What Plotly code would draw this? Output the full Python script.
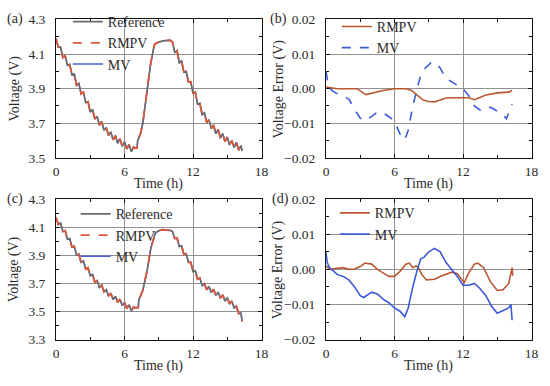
import plotly.graph_objects as go

# ---------------- data ----------------
# Panel (a): voltage traces (time in h, voltage in V)
t_a = [0.0, 0.2, 0.4, 0.6, 0.8, 1.0, 1.2, 1.4, 1.6, 1.8, 2.0, 2.2, 2.4, 2.6, 2.8, 3.0, 3.2, 3.4,
       3.6, 3.8, 4.0, 4.2, 4.4, 4.6, 4.8, 5.0, 5.2, 5.4, 5.6, 5.8, 6.0, 6.2, 6.4, 6.6, 6.8, 6.9,
       7.1, 7.15, 7.4, 7.6, 7.8, 8.0, 8.3, 8.6, 8.7, 9.0, 9.5, 10.0, 10.2,
       10.4, 10.6, 10.8, 11.0, 11.2, 11.4, 11.6, 11.8, 12.0, 12.2, 12.4, 12.6, 12.8, 13.0, 13.2,
       13.4, 13.6, 13.8, 14.0, 14.2, 14.4, 14.6, 14.8, 15.0, 15.2, 15.4, 15.6, 15.8, 16.0, 16.2, 16.3]
v_ref_a = [4.19, 4.14, 4.14, 4.08, 4.09, 4.035, 4.04, 3.98, 3.985, 3.92, 3.93, 3.87, 3.88, 3.82, 3.825,
           3.765, 3.78, 3.725, 3.74, 3.69, 3.71, 3.66, 3.675, 3.63, 3.65, 3.605, 3.628, 3.585, 3.61,
           3.568, 3.593, 3.552, 3.577, 3.537, 3.563, 3.556,
           3.557, 3.600, 3.640, 3.700, 3.800, 3.910, 4.050, 4.150, 4.160, 4.170, 4.178, 4.180, 4.170,
           4.11, 4.12, 4.05, 4.06, 3.995, 4.00, 3.94, 3.94, 3.875, 3.88, 3.81, 3.815, 3.75, 3.76,
           3.705, 3.72, 3.67, 3.69, 3.64, 3.665, 3.615, 3.64, 3.595, 3.62, 3.575, 3.60, 3.56, 3.59,
           3.545, 3.57, 3.54]
v_rmpv_a = list(v_ref_a)
v_mv_a = list(v_ref_a)

# Panel (c): voltage traces
t_c = [0.0, 0.2, 0.4, 0.6, 0.8, 1.0, 1.2, 1.4, 1.6, 1.8, 2.0, 2.2, 2.4, 2.6, 2.8, 3.0, 3.2, 3.4,
       3.6, 3.8, 4.0, 4.2, 4.4, 4.6, 4.8, 5.0, 5.2, 5.4, 5.6, 5.8, 6.0, 6.2, 6.4, 6.6, 6.8, 6.9,
       7.2, 7.25, 7.6, 8.0, 8.3, 8.7, 9.0, 9.3, 9.7, 10.0, 10.2,
       10.4, 10.6, 10.8, 11.0, 11.2, 11.4, 11.6, 11.8, 12.0, 12.2, 12.4, 12.6, 12.8, 13.0, 13.2,
       13.4, 13.6, 13.8, 14.0, 14.2, 14.4, 14.6, 14.8, 15.0, 15.2, 15.4, 15.6, 15.8, 16.0, 16.2, 16.3]
v_ref_c = [4.17, 4.12, 4.13, 4.07, 4.076, 4.015, 4.02, 3.96, 3.964, 3.903, 3.908, 3.85, 3.86, 3.803,
           3.812, 3.755, 3.764, 3.707, 3.72, 3.671, 3.688, 3.64, 3.656, 3.61, 3.63, 3.585, 3.608,
           3.565, 3.587, 3.542, 3.563, 3.522, 3.547, 3.505, 3.533, 3.527,
           3.528, 3.58, 3.65, 3.80, 3.95, 4.06, 4.075, 4.083, 4.08, 4.078, 4.07,
           4.02, 4.024, 3.963, 3.968, 3.907, 3.912, 3.85, 3.85, 3.785, 3.79, 3.73, 3.738, 3.685,
           3.698, 3.655, 3.678, 3.635, 3.658, 3.615, 3.638, 3.595, 3.618, 3.575, 3.598, 3.553,
           3.574, 3.525, 3.538, 3.485, 3.488, 3.43]
v_rmpv_c = list(v_ref_c)
v_mv_c = list(v_ref_c)

# Panel (b): voltage errors
t_b_rmpv = [0, 1, 2, 2.7, 3.5, 4, 5, 6, 7, 7.5, 8, 8.5, 9, 9.5, 10, 10.5, 11, 12, 12.5, 13, 13.5,
            14, 15, 16, 16.3]
e_b_rmpv = [0.0005, 0.0, 0.0, 0.0, -0.0017, -0.0013, -0.0005, 0.0, 0.0, -0.0005, -0.002, -0.0033,
            -0.0037, -0.0038, -0.0033, -0.0027, -0.0026, -0.0025, -0.0026, -0.0032, -0.0025,
            -0.0018, -0.0012, -0.001, -0.0005]
t_b_mv = [0, 0.2, 0.5, 1, 2, 2.5, 3, 3.4, 4, 4.5, 5, 5.7, 6, 6.3, 6.6, 6.9, 7.2, 7.6, 8, 8.3, 8.7,
          9.2, 9.5, 10, 10.5, 11, 11.7, 12, 12.5, 13, 13.5, 14, 14.5, 15, 15.5, 15.8, 16.3]
e_b_mv = [0.005, 0.001, -0.0005, -0.0015, -0.003, -0.006, -0.0085, -0.0093, -0.008, -0.0068,
          -0.007, -0.0085, -0.0095, -0.012, -0.014, -0.0148, -0.012, -0.005, 0.0, 0.004, 0.006,
          0.0075, 0.0077, 0.006, 0.003, 0.002, 0.0005, 0.0, -0.002, -0.005, -0.0062, -0.0053,
          -0.0055, -0.0065, -0.0075, -0.0087, -0.0045]

# Panel (d): voltage errors
t_d_rmpv = [0, 0.3, 1, 1.5, 2, 2.5, 3, 3.4, 4, 4.5, 5, 5.5, 6, 6.5, 7, 7.3, 7.6, 7.9, 8.1, 8.4,
            8.8, 9.5, 10, 11, 11.5, 12.1, 12.5, 13, 13.3, 13.8, 14.4, 15, 15.5, 16, 16.3, 16.35]
e_d_rmpv = [0.001, 0.0, 0.0003, 0.0005, 0.0, 0.0001, 0.0008, 0.0018, 0.0015, 0.0, -0.001, -0.002,
            -0.002, -0.0005, 0.0015, 0.0018, 0.0005, 0.001, 0.0005, -0.0015, -0.003, -0.0028,
            -0.002, -0.0008, -0.0012, -0.0038, -0.001, 0.0015, 0.0018, 0.0005, -0.0035, -0.006,
            -0.0058, -0.004, 0.0005, -0.0018]
t_d_mv = [0, 0.1, 0.3, 1, 1.5, 2, 2.5, 3, 3.3, 4, 4.5, 5, 5.5, 6, 6.5, 6.9, 7.2, 7.6, 8, 8.3, 8.6,
          9, 9.5, 10, 10.5, 11, 11.5, 12, 12.5, 13, 13.5, 14, 14.5, 15, 15.5, 16, 16.2, 16.3]
e_d_mv = [0.005, 0.002, 0.0005, -0.0015, -0.002, -0.003, -0.005, -0.0075, -0.008, -0.0065, -0.007,
          -0.0085, -0.0095, -0.011, -0.012, -0.0135, -0.011, -0.005, 0.0, 0.003, 0.0035, 0.005,
          0.006, 0.005, 0.002, 0.0, -0.002, -0.0045, -0.0045, -0.004, -0.0055, -0.0075, -0.0105,
          -0.0125, -0.0118, -0.011, -0.010, -0.0145]

x_ticks = [0, 6, 12, 18]

# ---------------- styling ----------------
W, H = 550, 386
FONT = "Liberation Serif"
C_REF = "#6f6a68"
C_RMPV_V = "#dc5a3c"
C_MV_V = "#4a5fd0"
C_RMPV_E = "#b9582f"
C_MV_E = "#3a5ad8"
TXT = "#2a2a2a"

def px_x(p):
    return p / W

def px_y(p):
    return 1 - p / H

dom_x_left = [px_x(54), px_x(263.3)]
dom_x_right = [px_x(329), px_x(538.3)]
dom_y_top = [px_y(157), px_y(13)]
dom_y_bot = [px_y(346), px_y(200)]

fig = go.Figure()

def add(x, y, xa, ya, name, color, dash, width, legend, rank):
    fig.add_trace(go.Scatter(x=x, y=y, xaxis=xa, yaxis=ya, mode="lines", name=name,
                             line=dict(color=color, dash=dash, width=width),
                             legend=legend, legendrank=rank))

# (a)
add(t_a, v_mv_a, "x", "y", "MV", C_MV_V, "solid", 1.4, "legend", 3)
add(t_a, v_ref_a, "x", "y", "Reference", C_REF, "solid", 1.6, "legend", 1)
add(t_a, v_rmpv_a, "x", "y", "RMPV", C_RMPV_V, "dash", 1.8, "legend", 2)
# (b)
add(t_b_rmpv, e_b_rmpv, "x2", "y2", "RMPV", C_RMPV_E, "solid", 1.6, "legend2", 1)
add(t_b_mv, e_b_mv, "x2", "y2", "MV", C_MV_E, "dash", 1.6, "legend2", 2)
# (c)
add(t_c, v_mv_c, "x3", "y3", "MV", C_MV_V, "solid", 1.4, "legend3", 3)
add(t_c, v_ref_c, "x3", "y3", "Reference", C_REF, "solid", 1.6, "legend3", 1)
add(t_c, v_rmpv_c, "x3", "y3", "RMPV", C_RMPV_V, "dash", 1.8, "legend3", 2)
# (d)
add(t_d_rmpv, e_d_rmpv, "x4", "y4", "RMPV", C_RMPV_E, "solid", 1.6, "legend4", 1)
add(t_d_mv, e_d_mv, "x4", "y4", "MV", C_MV_E, "solid", 1.6, "legend4", 2)

tickfont = dict(family=FONT, size=13.5, color=TXT)

def xaxis(domain, anchor):
    return dict(domain=domain, anchor=anchor, range=[0, 18], tickvals=x_ticks,
                ticks="inside", ticklen=4, tickcolor="#111", mirror="ticks",
                showline=True, linecolor="#111", linewidth=1,
                showgrid=True, gridcolor="#909090", gridwidth=1, zeroline=False,
                minor=dict(ticks="inside", ticklen=3, dtick=3, tickcolor="#111", showgrid=False),
                tickfont=tickfont, ticklabelstandoff=1)

def yaxis(domain, anchor, rng, vals, texts, minor_dtick):
    return dict(domain=domain, anchor=anchor, range=rng, tickvals=vals, ticktext=texts,
                ticks="inside", ticklen=4, tickcolor="#111", mirror="ticks",
                showline=True, linecolor="#111", linewidth=1,
                showgrid=True, gridcolor="#909090", gridwidth=1, zeroline=False,
                minor=dict(ticks="inside", ticklen=3, dtick=minor_dtick, tick0=rng[0],
                           tickcolor="#111", showgrid=False),
                tickfont=tickfont, ticklabelstandoff=7)

v_ticks_a = [3.5, 3.7, 3.9, 4.1, 4.3]
v_ticks_c = [3.3, 3.5, 3.7, 3.9, 4.1, 4.3]
e_ticks = [-0.02, -0.01, 0.0, 0.01, 0.02]
e_text = ["\u22120.02", "\u22120.01", "0.00", "0.01", "0.02"]

legend_common = dict(bgcolor="rgba(0,0,0,0)", borderwidth=0,
                     font=dict(family=FONT, size=14, color=TXT),
                     xanchor="left", yanchor="top", tracegroupgap=0, itemwidth=30)

fig.update_layout(
    width=W, height=H, margin=dict(l=0, r=0, t=0, b=0),
    paper_bgcolor="white", plot_bgcolor="white",
    font=dict(family=FONT, size=14, color=TXT),
    xaxis=xaxis(dom_x_left, "y"),
    yaxis=yaxis(dom_y_top, "x", [3.5, 4.3], v_ticks_a, [f"{v:.1f}" for v in v_ticks_a], 0.1),
    xaxis2=xaxis(dom_x_right, "y2"),
    yaxis2=yaxis(dom_y_top, "x2", [-0.02, 0.02], e_ticks, e_text, 0.005),
    xaxis3=xaxis(dom_x_left, "y3"),
    yaxis3=yaxis(dom_y_bot, "x3", [3.3, 4.3], v_ticks_c, [f"{v:.1f}" for v in v_ticks_c], 0.1),
    xaxis4=xaxis(dom_x_right, "y4"),
    yaxis4=yaxis(dom_y_bot, "x4", [-0.02, 0.02], e_ticks, e_text, 0.005),
    legend=dict(legend_common, x=px_x(66), y=px_y(-1)),
    legend2=dict(legend_common, x=px_x(340), y=px_y(4)),
    legend3=dict(legend_common, x=px_x(74), y=px_y(199)),
    legend4=dict(legend_common, x=px_x(338), y=px_y(198)),
)

anns = []
def ann(text, x, y, angle=0, size=14):
    anns.append(dict(text=text, x=px_x(x), y=px_y(y), xref="paper", yref="paper",
                     showarrow=False, textangle=angle, xanchor="center", yanchor="middle",
                     font=dict(family=FONT, size=size, color=TXT)))

ann("(a)", 12, 12)
ann("(b)", 281, 12)
ann("(c)", 12, 200)
ann("(d)", 283, 200)
ann("Voltage (V)", 12, 85, -90)
ann("Voltage Error (V)", 281, 85, -90)
ann("Voltage (V)", 12, 273, -90)
ann("Voltage Error (V)", 281, 273, -90)
ann("Time (h)", 158.6, 184)
ann("Time (h)", 433.6, 184)
ann("Time (h)", 158.6, 373)
ann("Time (h)", 433.6, 373)
fig.update_layout(annotations=anns)

fig.write_html("out.html", config={"displayModeBar": False},
               post_script="document.body.style.margin='0';")
